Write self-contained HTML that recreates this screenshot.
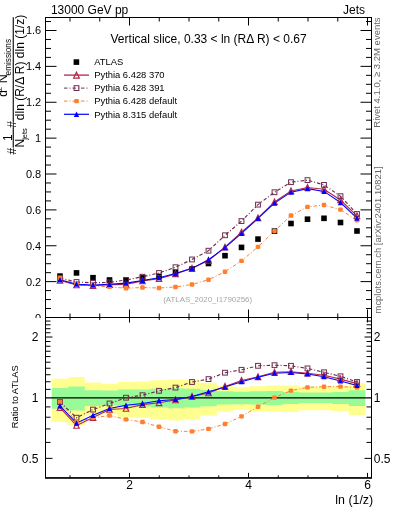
<!DOCTYPE html><html><head><meta charset="utf-8"><style>html,body{margin:0;padding:0;background:#fff;width:393px;height:512px;overflow:hidden}svg{display:block;will-change:transform}text{font-family:"Liberation Sans",sans-serif}</style></head><body>
<svg width="393" height="512" viewBox="0 0 393 512">
<rect x="0" y="0" width="393" height="512" fill="#fff"/>
<path d="M45.5,317.50h11M371.5,317.50h-11M45.5,308.53h5.5M371.5,308.53h-5.5M45.5,299.56h5.5M371.5,299.56h-5.5M45.5,290.59h5.5M371.5,290.59h-5.5M45.5,281.62h11M371.5,281.62h-11M45.5,272.66h5.5M371.5,272.66h-5.5M45.5,263.69h5.5M371.5,263.69h-5.5M45.5,254.72h5.5M371.5,254.72h-5.5M45.5,245.75h11M371.5,245.75h-11M45.5,236.78h5.5M371.5,236.78h-5.5M45.5,227.81h5.5M371.5,227.81h-5.5M45.5,218.84h5.5M371.5,218.84h-5.5M45.5,209.88h11M371.5,209.88h-11M45.5,200.91h5.5M371.5,200.91h-5.5M45.5,191.94h5.5M371.5,191.94h-5.5M45.5,182.97h5.5M371.5,182.97h-5.5M45.5,174.00h11M371.5,174.00h-11M45.5,165.03h5.5M371.5,165.03h-5.5M45.5,156.06h5.5M371.5,156.06h-5.5M45.5,147.09h5.5M371.5,147.09h-5.5M45.5,138.12h11M371.5,138.12h-11M45.5,129.16h5.5M371.5,129.16h-5.5M45.5,120.19h5.5M371.5,120.19h-5.5M45.5,111.22h5.5M371.5,111.22h-5.5M45.5,102.25h11M371.5,102.25h-11M45.5,93.28h5.5M371.5,93.28h-5.5M45.5,84.31h5.5M371.5,84.31h-5.5M45.5,75.34h5.5M371.5,75.34h-5.5M45.5,66.37h11M371.5,66.37h-11M45.5,57.41h5.5M371.5,57.41h-5.5M45.5,48.44h5.5M371.5,48.44h-5.5M45.5,39.47h5.5M371.5,39.47h-5.5M45.5,30.50h11M371.5,30.50h-11M45.5,21.53h5.5M371.5,21.53h-5.5M70.00,317.5v-4M70.00,17.5v4M99.75,317.5v-4M99.75,17.5v4M129.50,317.5v-8M129.50,17.5v8M159.25,317.5v-4M159.25,17.5v4M189.00,317.5v-4M189.00,17.5v4M218.75,317.5v-4M218.75,17.5v4M248.50,317.5v-8M248.50,17.5v8M278.25,317.5v-4M278.25,17.5v4M308.00,317.5v-4M308.00,17.5v4M337.75,317.5v-4M337.75,17.5v4M367.50,317.5v-8M367.50,17.5v8" stroke="#000" stroke-width="1" fill="none"/>
<text x="41.2" y="322.10" font-size="11" text-anchor="end">0</text>
<text x="41.2" y="285.52" font-size="11" text-anchor="end">0.2</text>
<text x="41.2" y="249.65" font-size="11" text-anchor="end">0.4</text>
<text x="41.2" y="213.78" font-size="11" text-anchor="end">0.6</text>
<text x="41.2" y="177.90" font-size="11" text-anchor="end">0.8</text>
<text x="41.2" y="142.03" font-size="11" text-anchor="end">1</text>
<text x="41.2" y="106.15" font-size="11" text-anchor="end">1.2</text>
<text x="41.2" y="70.27" font-size="11" text-anchor="end">1.4</text>
<text x="41.2" y="34.40" font-size="11" text-anchor="end">1.6</text>
<text x="50.9" y="13.7" font-size="12">13000 GeV pp</text>
<text x="365" y="13.7" font-size="12" text-anchor="end">Jets</text>
<text x="208.6" y="42.8" font-size="12" text-anchor="middle">Vertical slice, 0.33 &lt; ln (RΔ R) &lt; 0.67</text>
<text x="207.6" y="301.9" font-size="7.9" text-anchor="middle" fill="#a6a6a6">(ATLAS_2020_I1790256)</text>
<text transform="translate(379.9,17.4) rotate(-90)" font-size="9.5" text-anchor="end" fill="#666">Rivet 4.1.0, ≥ 3.2M events</text>
<text transform="translate(381.2,313.4) rotate(-90)" font-size="9.4" fill="#666">mcplots.cern.ch [arXiv:2401.10821]</text>
<rect x="73.6" y="59.300000000000004" width="5.6" height="5.6" fill="#000"/>
<line x1="64" y1="75.1" x2="89" y2="75.1" stroke="#b3284a" stroke-width="1.3"/>
<line x1="64" y1="88.1" x2="89" y2="88.1" stroke="#6e2c4e" stroke-width="1" stroke-dasharray="3.5,2,1,2"/>
<line x1="64" y1="101.1" x2="89" y2="101.1" stroke="#ff7f2e" stroke-width="1" stroke-dasharray="3.5,2,1,2"/>
<line x1="64" y1="114.3" x2="89" y2="114.3" stroke="#0000ff" stroke-width="1.2"/>
<path d="M76.50,72.23L79.38,78.18L73.62,78.18Z" fill="none" stroke="#b3284a" stroke-width="1.2"/>
<rect x="74.10" y="85.70" width="4.8" height="4.8" fill="none" stroke="#6e2c4e" stroke-width="1"/>
<rect x="74.20" y="98.90" width="4.6" height="4.4" rx="1.2" fill="#ff7f2e"/>
<path d="M76.50,111.40L79.20,116.90L73.80,116.90Z" fill="#0000ff"/>
<text x="94.2" y="65.40" font-size="9.4">ATLAS</text>
<text x="94.2" y="78.40" font-size="9.4">Pythia 6.428 370</text>
<text x="94.2" y="91.40" font-size="9.4">Pythia 6.428 391</text>
<text x="94.2" y="104.40" font-size="9.4">Pythia 6.428 default</text>
<text x="94.2" y="117.60" font-size="9.4">Pythia 8.315 default</text>
<polyline points="60.00,280.53 76.50,285.04 93.00,285.79 109.50,284.73 126.00,284.35 142.50,280.90 159.00,278.73 175.50,273.86 192.00,268.33 208.50,260.52 225.00,247.18 241.50,232.18 258.00,217.96 274.50,202.01 291.00,190.99 307.50,187.45 324.00,189.22 340.50,200.01 357.00,215.88" fill="none" stroke="#b3284a" stroke-width="1.1"/>
<polyline points="60.00,278.08 76.50,282.01 93.00,282.76 109.50,282.40 126.00,280.00 142.50,276.75 159.00,273.03 175.50,267.22 192.00,259.47 208.50,250.71 225.00,235.27 241.50,221.08 258.00,204.63 274.50,192.25 291.00,182.17 307.50,180.12 324.00,184.90 340.50,196.19 357.00,214.01" fill="none" stroke="#6e2c4e" stroke-width="1.15" stroke-dasharray="3.5,2,1,2"/>
<polyline points="60.00,278.04 76.50,283.71 93.00,285.90 109.50,286.90 126.00,288.23 142.50,287.50 159.00,288.02 175.50,286.95 192.00,284.50 208.50,279.69 225.00,271.74 241.50,260.88 258.00,246.84 274.50,231.00 291.00,215.56 307.50,206.92 324.00,205.02 340.50,209.66 357.00,220.31" fill="none" stroke="#ff7f2e" stroke-width="1" stroke-dasharray="3.5,2,1,2"/>
<polyline points="60.00,279.80 76.50,284.17 93.00,284.97 109.50,284.37 126.00,283.14 142.50,280.48 159.00,277.76 175.50,273.56 192.00,268.36 208.50,259.77 225.00,247.70 241.50,233.29 258.00,218.47 274.50,203.13 291.00,192.14 307.50,188.63 324.00,191.40 340.50,202.53 357.00,218.06" fill="none" stroke="#0000ff" stroke-width="1.05"/>
<rect x="57.20" y="273.30" width="5.6" height="5.6" fill="#000"/>
<rect x="73.70" y="270.10" width="5.6" height="5.6" fill="#000"/>
<rect x="90.20" y="274.90" width="5.6" height="5.6" fill="#000"/>
<rect x="106.70" y="277.20" width="5.6" height="5.6" fill="#000"/>
<rect x="123.20" y="277.20" width="5.6" height="5.6" fill="#000"/>
<rect x="139.70" y="275.10" width="5.6" height="5.6" fill="#000"/>
<rect x="156.20" y="273.60" width="5.6" height="5.6" fill="#000"/>
<rect x="172.70" y="269.90" width="5.6" height="5.6" fill="#000"/>
<rect x="189.20" y="266.20" width="5.6" height="5.6" fill="#000"/>
<rect x="205.70" y="260.70" width="5.6" height="5.6" fill="#000"/>
<rect x="222.20" y="252.90" width="5.6" height="5.6" fill="#000"/>
<rect x="238.70" y="244.60" width="5.6" height="5.6" fill="#000"/>
<rect x="255.20" y="236.30" width="5.6" height="5.6" fill="#000"/>
<rect x="271.70" y="228.30" width="5.6" height="5.6" fill="#000"/>
<rect x="288.20" y="220.70" width="5.6" height="5.6" fill="#000"/>
<rect x="304.70" y="216.40" width="5.6" height="5.6" fill="#000"/>
<rect x="321.20" y="215.50" width="5.6" height="5.6" fill="#000"/>
<rect x="337.70" y="219.70" width="5.6" height="5.6" fill="#000"/>
<rect x="354.20" y="228.20" width="5.6" height="5.6" fill="#000"/>
<path d="M60.00,277.62L62.73,283.26L57.27,283.26Z" fill="none" stroke="#b3284a" stroke-width="1.2"/>
<path d="M76.50,282.13L79.23,287.76L73.77,287.76Z" fill="none" stroke="#b3284a" stroke-width="1.2"/>
<path d="M93.00,282.89L95.73,288.52L90.27,288.52Z" fill="none" stroke="#b3284a" stroke-width="1.2"/>
<path d="M109.50,281.83L112.23,287.46L106.77,287.46Z" fill="none" stroke="#b3284a" stroke-width="1.2"/>
<path d="M126.00,281.45L128.73,287.08L123.27,287.08Z" fill="none" stroke="#b3284a" stroke-width="1.2"/>
<path d="M142.50,278.00L145.23,283.63L139.77,283.63Z" fill="none" stroke="#b3284a" stroke-width="1.2"/>
<path d="M159.00,275.82L161.73,281.45L156.27,281.45Z" fill="none" stroke="#b3284a" stroke-width="1.2"/>
<path d="M175.50,270.96L178.23,276.59L172.77,276.59Z" fill="none" stroke="#b3284a" stroke-width="1.2"/>
<path d="M192.00,265.43L194.73,271.06L189.27,271.06Z" fill="none" stroke="#b3284a" stroke-width="1.2"/>
<path d="M208.50,257.62L211.23,263.25L205.77,263.25Z" fill="none" stroke="#b3284a" stroke-width="1.2"/>
<path d="M225.00,244.28L227.73,249.91L222.27,249.91Z" fill="none" stroke="#b3284a" stroke-width="1.2"/>
<path d="M241.50,229.27L244.23,234.91L238.77,234.91Z" fill="none" stroke="#b3284a" stroke-width="1.2"/>
<path d="M258.00,215.05L260.73,220.68L255.27,220.68Z" fill="none" stroke="#b3284a" stroke-width="1.2"/>
<path d="M274.50,199.11L277.23,204.74L271.77,204.74Z" fill="none" stroke="#b3284a" stroke-width="1.2"/>
<path d="M291.00,188.08L293.73,193.72L288.27,193.72Z" fill="none" stroke="#b3284a" stroke-width="1.2"/>
<path d="M307.50,184.54L310.23,190.18L304.77,190.18Z" fill="none" stroke="#b3284a" stroke-width="1.2"/>
<path d="M324.00,186.32L326.73,191.95L321.27,191.95Z" fill="none" stroke="#b3284a" stroke-width="1.2"/>
<path d="M340.50,197.10L343.23,202.73L337.77,202.73Z" fill="none" stroke="#b3284a" stroke-width="1.2"/>
<path d="M357.00,212.98L359.73,218.61L354.27,218.61Z" fill="none" stroke="#b3284a" stroke-width="1.2"/>
<rect x="57.60" y="275.68" width="4.8" height="4.8" fill="none" stroke="#6e2c4e" stroke-width="1"/>
<rect x="74.10" y="279.61" width="4.8" height="4.8" fill="none" stroke="#6e2c4e" stroke-width="1"/>
<rect x="90.60" y="280.36" width="4.8" height="4.8" fill="none" stroke="#6e2c4e" stroke-width="1"/>
<rect x="107.10" y="280.00" width="4.8" height="4.8" fill="none" stroke="#6e2c4e" stroke-width="1"/>
<rect x="123.60" y="277.60" width="4.8" height="4.8" fill="none" stroke="#6e2c4e" stroke-width="1"/>
<rect x="140.10" y="274.35" width="4.8" height="4.8" fill="none" stroke="#6e2c4e" stroke-width="1"/>
<rect x="156.60" y="270.63" width="4.8" height="4.8" fill="none" stroke="#6e2c4e" stroke-width="1"/>
<rect x="173.10" y="264.82" width="4.8" height="4.8" fill="none" stroke="#6e2c4e" stroke-width="1"/>
<rect x="189.60" y="257.07" width="4.8" height="4.8" fill="none" stroke="#6e2c4e" stroke-width="1"/>
<rect x="206.10" y="248.31" width="4.8" height="4.8" fill="none" stroke="#6e2c4e" stroke-width="1"/>
<rect x="222.60" y="232.87" width="4.8" height="4.8" fill="none" stroke="#6e2c4e" stroke-width="1"/>
<rect x="239.10" y="218.68" width="4.8" height="4.8" fill="none" stroke="#6e2c4e" stroke-width="1"/>
<rect x="255.60" y="202.23" width="4.8" height="4.8" fill="none" stroke="#6e2c4e" stroke-width="1"/>
<rect x="272.10" y="189.85" width="4.8" height="4.8" fill="none" stroke="#6e2c4e" stroke-width="1"/>
<rect x="288.60" y="179.77" width="4.8" height="4.8" fill="none" stroke="#6e2c4e" stroke-width="1"/>
<rect x="305.10" y="177.72" width="4.8" height="4.8" fill="none" stroke="#6e2c4e" stroke-width="1"/>
<rect x="321.60" y="182.50" width="4.8" height="4.8" fill="none" stroke="#6e2c4e" stroke-width="1"/>
<rect x="338.10" y="193.79" width="4.8" height="4.8" fill="none" stroke="#6e2c4e" stroke-width="1"/>
<rect x="354.60" y="211.61" width="4.8" height="4.8" fill="none" stroke="#6e2c4e" stroke-width="1"/>
<rect x="57.70" y="275.84" width="4.6" height="4.4" rx="1.2" fill="#ff7f2e"/>
<rect x="74.20" y="281.51" width="4.6" height="4.4" rx="1.2" fill="#ff7f2e"/>
<rect x="90.70" y="283.70" width="4.6" height="4.4" rx="1.2" fill="#ff7f2e"/>
<rect x="107.20" y="284.70" width="4.6" height="4.4" rx="1.2" fill="#ff7f2e"/>
<rect x="123.70" y="286.03" width="4.6" height="4.4" rx="1.2" fill="#ff7f2e"/>
<rect x="140.20" y="285.30" width="4.6" height="4.4" rx="1.2" fill="#ff7f2e"/>
<rect x="156.70" y="285.82" width="4.6" height="4.4" rx="1.2" fill="#ff7f2e"/>
<rect x="173.20" y="284.75" width="4.6" height="4.4" rx="1.2" fill="#ff7f2e"/>
<rect x="189.70" y="282.30" width="4.6" height="4.4" rx="1.2" fill="#ff7f2e"/>
<rect x="206.20" y="277.49" width="4.6" height="4.4" rx="1.2" fill="#ff7f2e"/>
<rect x="222.70" y="269.54" width="4.6" height="4.4" rx="1.2" fill="#ff7f2e"/>
<rect x="239.20" y="258.68" width="4.6" height="4.4" rx="1.2" fill="#ff7f2e"/>
<rect x="255.70" y="244.64" width="4.6" height="4.4" rx="1.2" fill="#ff7f2e"/>
<rect x="272.20" y="228.80" width="4.6" height="4.4" rx="1.2" fill="#ff7f2e"/>
<rect x="288.70" y="213.36" width="4.6" height="4.4" rx="1.2" fill="#ff7f2e"/>
<rect x="305.20" y="204.72" width="4.6" height="4.4" rx="1.2" fill="#ff7f2e"/>
<rect x="321.70" y="202.82" width="4.6" height="4.4" rx="1.2" fill="#ff7f2e"/>
<rect x="338.20" y="207.46" width="4.6" height="4.4" rx="1.2" fill="#ff7f2e"/>
<rect x="354.70" y="218.11" width="4.6" height="4.4" rx="1.2" fill="#ff7f2e"/>
<path d="M60.00,276.90L62.70,282.40L57.30,282.40Z" fill="#0000ff"/>
<path d="M76.50,281.27L79.20,286.77L73.80,286.77Z" fill="#0000ff"/>
<path d="M93.00,282.07L95.70,287.57L90.30,287.57Z" fill="#0000ff"/>
<path d="M109.50,281.47L112.20,286.97L106.80,286.97Z" fill="#0000ff"/>
<path d="M126.00,280.24L128.70,285.74L123.30,285.74Z" fill="#0000ff"/>
<path d="M142.50,277.58L145.20,283.08L139.80,283.08Z" fill="#0000ff"/>
<path d="M159.00,274.86L161.70,280.36L156.30,280.36Z" fill="#0000ff"/>
<path d="M175.50,270.66L178.20,276.16L172.80,276.16Z" fill="#0000ff"/>
<path d="M192.00,265.46L194.70,270.96L189.30,270.96Z" fill="#0000ff"/>
<path d="M208.50,256.87L211.20,262.37L205.80,262.37Z" fill="#0000ff"/>
<path d="M225.00,244.80L227.70,250.30L222.30,250.30Z" fill="#0000ff"/>
<path d="M241.50,230.39L244.20,235.89L238.80,235.89Z" fill="#0000ff"/>
<path d="M258.00,215.57L260.70,221.07L255.30,221.07Z" fill="#0000ff"/>
<path d="M274.50,200.23L277.20,205.73L271.80,205.73Z" fill="#0000ff"/>
<path d="M291.00,189.24L293.70,194.74L288.30,194.74Z" fill="#0000ff"/>
<path d="M307.50,185.73L310.20,191.23L304.80,191.23Z" fill="#0000ff"/>
<path d="M324.00,188.50L326.70,194.00L321.30,194.00Z" fill="#0000ff"/>
<path d="M340.50,199.63L343.20,205.13L337.80,205.13Z" fill="#0000ff"/>
<path d="M357.00,215.16L359.70,220.66L354.30,220.66Z" fill="#0000ff"/>
<rect x="45.5" y="17.5" width="326.0" height="300.0" fill="none" stroke="#000" stroke-width="1"/>
<rect x="0" y="318" width="393" height="194" fill="#fff"/>
<path d="M51.75,378.70L68.25,378.70L68.25,376.90L84.75,376.90L84.75,382.60L101.25,382.60L101.25,383.70L117.75,383.70L117.75,381.90L134.25,381.90L134.25,381.40L150.75,381.40L150.75,380.30L167.25,380.30L167.25,379.60L183.75,379.60L183.75,380.30L200.25,380.30L200.25,382.80L216.75,382.80L216.75,386.00L233.25,386.00L233.25,387.20L249.75,387.20L249.75,386.20L266.25,386.20L266.25,385.60L282.75,385.60L282.75,385.50L299.25,385.50L299.25,386.70L315.75,386.70L315.75,386.70L332.25,386.70L332.25,386.20L348.75,386.20L348.75,383.20L365.25,383.20L365.25,415.09L348.75,415.09L348.75,410.94L332.25,410.94L332.25,410.28L315.75,410.28L315.75,410.28L299.25,410.28L299.25,411.88L282.75,411.88L282.75,411.75L266.25,411.75L266.25,410.94L249.75,410.94L249.75,409.63L233.25,409.63L233.25,411.21L216.75,411.21L216.75,415.67L200.25,415.67L200.25,419.44L183.75,419.44L183.75,420.55L167.25,420.55L167.25,419.44L150.75,419.44L150.75,417.75L134.25,417.75L134.25,416.99L117.75,416.99L117.75,414.37L101.25,414.37L101.25,415.96L84.75,415.96L84.75,425.04L68.25,425.04L68.25,422.00L51.75,422.00Z" fill="#ffff90"/>
<path d="M51.75,387.90L68.25,387.90L68.25,386.50L84.75,386.50L84.75,390.20L101.25,390.20L101.25,390.60L117.75,390.60L117.75,389.50L134.25,389.50L134.25,389.50L150.75,389.50L150.75,388.80L167.25,388.80L167.25,388.30L183.75,388.30L183.75,388.80L200.25,388.80L200.25,390.00L216.75,390.00L216.75,391.30L233.25,391.30L233.25,391.70L249.75,391.70L249.75,391.30L266.25,391.30L266.25,390.90L282.75,390.90L282.75,391.90L299.25,391.90L299.25,392.60L315.75,392.60L315.75,392.60L332.25,392.60L332.25,391.90L348.75,391.90L348.75,390.20L365.25,390.20L365.25,405.90L348.75,405.90L348.75,403.91L332.25,403.91L332.25,403.12L315.75,403.12L315.75,403.12L299.25,403.12L299.25,403.91L282.75,403.91L282.75,405.07L266.25,405.07L266.25,404.61L249.75,404.61L249.75,404.14L233.25,404.14L233.25,404.61L216.75,404.61L216.75,406.14L200.25,406.14L200.25,407.61L183.75,407.61L183.75,408.23L167.25,408.23L167.25,407.61L150.75,407.61L150.75,406.75L134.25,406.75L134.25,406.75L117.75,406.75L117.75,405.43L101.25,405.43L101.25,405.90L84.75,405.90L84.75,410.55L68.25,410.55L68.25,408.74L51.75,408.74Z" fill="#98fb98"/>
<line x1="45.5" y1="397.9" x2="371.5" y2="397.9" stroke="#000" stroke-width="1.2"/>
<path d="M45.5,458.37h7M371.5,458.37h-7M45.5,442.41h5M371.5,442.41h-5M45.5,428.92h5M371.5,428.92h-5M45.5,417.23h5M371.5,417.23h-5M45.5,406.92h5M371.5,406.92h-5M45.5,389.36h5M371.5,389.36h-5M45.5,381.74h5M371.5,381.74h-5M45.5,374.74h5M371.5,374.74h-5M45.5,368.25h5M371.5,368.25h-5M45.5,362.21h5M371.5,362.21h-5M45.5,356.56h5M371.5,356.56h-5M45.5,351.26h5M371.5,351.26h-5M45.5,346.25h5M371.5,346.25h-5M45.5,341.52h5M371.5,341.52h-5M45.5,337.03h7M371.5,337.03h-7M45.5,332.76h5M371.5,332.76h-5M45.5,328.69h5M371.5,328.69h-5M45.5,324.80h5M371.5,324.80h-5M45.5,321.07h5M371.5,321.07h-5M70.00,317.5v2.5M70.00,477.9v-2.5M99.75,317.5v2.5M99.75,477.9v-2.5M129.50,317.5v5M129.50,477.9v-5M159.25,317.5v2.5M159.25,477.9v-2.5M189.00,317.5v2.5M189.00,477.9v-2.5M218.75,317.5v2.5M218.75,477.9v-2.5M248.50,317.5v5M248.50,477.9v-5M278.25,317.5v2.5M278.25,477.9v-2.5M308.00,317.5v2.5M308.00,477.9v-2.5M337.75,317.5v2.5M337.75,477.9v-2.5M367.50,317.5v5M367.50,477.9v-5" stroke="#000" stroke-width="1" fill="none"/>
<polyline points="60.00,407.60 76.50,425.50 93.00,417.60 109.50,409.50 126.00,408.50 142.50,404.60 159.00,402.80 175.50,400.00 192.00,396.50 208.50,393.00 225.00,386.40 241.50,380.50 258.00,376.80 274.50,372.30 291.00,371.70 307.50,373.20 324.00,375.20 340.50,379.10 357.00,383.60" fill="none" stroke="#b3284a" stroke-width="1.1"/>
<polyline points="60.00,402.00 76.50,417.70 93.00,409.60 109.50,403.50 126.00,397.70 142.50,395.20 159.00,390.80 175.50,387.60 192.00,382.00 208.50,379.10 225.00,372.70 241.50,369.80 258.00,365.80 274.50,365.20 291.00,365.80 307.50,368.40 324.00,372.30 340.50,376.30 357.00,382.00" fill="none" stroke="#6e2c4e" stroke-width="1.15" stroke-dasharray="3.5,2,1,2"/>
<polyline points="60.00,401.90 76.50,422.00 93.00,417.90 109.50,415.50 126.00,419.40 142.50,422.00 159.00,426.80 175.50,431.20 192.00,431.40 208.50,428.90 225.00,424.00 241.50,416.40 258.00,406.80 274.50,397.60 291.00,390.60 307.50,387.40 324.00,386.70 340.50,386.60 357.00,387.50" fill="none" stroke="#ff7f2e" stroke-width="1" stroke-dasharray="3.5,2,1,2"/>
<polyline points="60.00,405.90 76.50,423.20 93.00,415.35 109.50,408.55 126.00,405.35 142.50,403.60 159.00,400.65 175.50,399.40 192.00,396.55 208.50,391.85 225.00,387.05 241.50,381.65 258.00,377.25 274.50,373.15 291.00,372.50 307.50,374.00 324.00,376.70 340.50,381.00 357.00,385.50" fill="none" stroke="#0000ff" stroke-width="1.05"/>
<path d="M60.00,404.70L62.73,410.33L57.27,410.33Z" fill="none" stroke="#b3284a" stroke-width="1.2"/>
<path d="M76.50,422.60L79.23,428.23L73.77,428.23Z" fill="none" stroke="#b3284a" stroke-width="1.2"/>
<path d="M93.00,414.70L95.73,420.33L90.27,420.33Z" fill="none" stroke="#b3284a" stroke-width="1.2"/>
<path d="M109.50,406.60L112.23,412.23L106.77,412.23Z" fill="none" stroke="#b3284a" stroke-width="1.2"/>
<path d="M126.00,405.60L128.73,411.23L123.27,411.23Z" fill="none" stroke="#b3284a" stroke-width="1.2"/>
<path d="M142.50,401.70L145.23,407.33L139.77,407.33Z" fill="none" stroke="#b3284a" stroke-width="1.2"/>
<path d="M159.00,399.90L161.73,405.53L156.27,405.53Z" fill="none" stroke="#b3284a" stroke-width="1.2"/>
<path d="M175.50,397.10L178.23,402.73L172.77,402.73Z" fill="none" stroke="#b3284a" stroke-width="1.2"/>
<path d="M192.00,393.60L194.73,399.23L189.27,399.23Z" fill="none" stroke="#b3284a" stroke-width="1.2"/>
<path d="M208.50,390.10L211.23,395.73L205.77,395.73Z" fill="none" stroke="#b3284a" stroke-width="1.2"/>
<path d="M225.00,383.50L227.73,389.13L222.27,389.13Z" fill="none" stroke="#b3284a" stroke-width="1.2"/>
<path d="M241.50,377.60L244.23,383.23L238.77,383.23Z" fill="none" stroke="#b3284a" stroke-width="1.2"/>
<path d="M258.00,373.90L260.73,379.53L255.27,379.53Z" fill="none" stroke="#b3284a" stroke-width="1.2"/>
<path d="M274.50,369.40L277.23,375.03L271.77,375.03Z" fill="none" stroke="#b3284a" stroke-width="1.2"/>
<path d="M291.00,368.80L293.73,374.43L288.27,374.43Z" fill="none" stroke="#b3284a" stroke-width="1.2"/>
<path d="M307.50,370.30L310.23,375.93L304.77,375.93Z" fill="none" stroke="#b3284a" stroke-width="1.2"/>
<path d="M324.00,372.30L326.73,377.93L321.27,377.93Z" fill="none" stroke="#b3284a" stroke-width="1.2"/>
<path d="M340.50,376.20L343.23,381.83L337.77,381.83Z" fill="none" stroke="#b3284a" stroke-width="1.2"/>
<path d="M357.00,380.70L359.73,386.33L354.27,386.33Z" fill="none" stroke="#b3284a" stroke-width="1.2"/>
<rect x="57.60" y="399.60" width="4.8" height="4.8" fill="none" stroke="#6e2c4e" stroke-width="1"/>
<rect x="74.10" y="415.30" width="4.8" height="4.8" fill="none" stroke="#6e2c4e" stroke-width="1"/>
<rect x="90.60" y="407.20" width="4.8" height="4.8" fill="none" stroke="#6e2c4e" stroke-width="1"/>
<rect x="107.10" y="401.10" width="4.8" height="4.8" fill="none" stroke="#6e2c4e" stroke-width="1"/>
<rect x="123.60" y="395.30" width="4.8" height="4.8" fill="none" stroke="#6e2c4e" stroke-width="1"/>
<rect x="140.10" y="392.80" width="4.8" height="4.8" fill="none" stroke="#6e2c4e" stroke-width="1"/>
<rect x="156.60" y="388.40" width="4.8" height="4.8" fill="none" stroke="#6e2c4e" stroke-width="1"/>
<rect x="173.10" y="385.20" width="4.8" height="4.8" fill="none" stroke="#6e2c4e" stroke-width="1"/>
<rect x="189.60" y="379.60" width="4.8" height="4.8" fill="none" stroke="#6e2c4e" stroke-width="1"/>
<rect x="206.10" y="376.70" width="4.8" height="4.8" fill="none" stroke="#6e2c4e" stroke-width="1"/>
<rect x="222.60" y="370.30" width="4.8" height="4.8" fill="none" stroke="#6e2c4e" stroke-width="1"/>
<rect x="239.10" y="367.40" width="4.8" height="4.8" fill="none" stroke="#6e2c4e" stroke-width="1"/>
<rect x="255.60" y="363.40" width="4.8" height="4.8" fill="none" stroke="#6e2c4e" stroke-width="1"/>
<rect x="272.10" y="362.80" width="4.8" height="4.8" fill="none" stroke="#6e2c4e" stroke-width="1"/>
<rect x="288.60" y="363.40" width="4.8" height="4.8" fill="none" stroke="#6e2c4e" stroke-width="1"/>
<rect x="305.10" y="366.00" width="4.8" height="4.8" fill="none" stroke="#6e2c4e" stroke-width="1"/>
<rect x="321.60" y="369.90" width="4.8" height="4.8" fill="none" stroke="#6e2c4e" stroke-width="1"/>
<rect x="338.10" y="373.90" width="4.8" height="4.8" fill="none" stroke="#6e2c4e" stroke-width="1"/>
<rect x="354.60" y="379.60" width="4.8" height="4.8" fill="none" stroke="#6e2c4e" stroke-width="1"/>
<rect x="57.70" y="399.70" width="4.6" height="4.4" rx="1.2" fill="#ff7f2e"/>
<rect x="74.20" y="419.80" width="4.6" height="4.4" rx="1.2" fill="#ff7f2e"/>
<rect x="90.70" y="415.70" width="4.6" height="4.4" rx="1.2" fill="#ff7f2e"/>
<rect x="107.20" y="413.30" width="4.6" height="4.4" rx="1.2" fill="#ff7f2e"/>
<rect x="123.70" y="417.20" width="4.6" height="4.4" rx="1.2" fill="#ff7f2e"/>
<rect x="140.20" y="419.80" width="4.6" height="4.4" rx="1.2" fill="#ff7f2e"/>
<rect x="156.70" y="424.60" width="4.6" height="4.4" rx="1.2" fill="#ff7f2e"/>
<rect x="173.20" y="429.00" width="4.6" height="4.4" rx="1.2" fill="#ff7f2e"/>
<rect x="189.70" y="429.20" width="4.6" height="4.4" rx="1.2" fill="#ff7f2e"/>
<rect x="206.20" y="426.70" width="4.6" height="4.4" rx="1.2" fill="#ff7f2e"/>
<rect x="222.70" y="421.80" width="4.6" height="4.4" rx="1.2" fill="#ff7f2e"/>
<rect x="239.20" y="414.20" width="4.6" height="4.4" rx="1.2" fill="#ff7f2e"/>
<rect x="255.70" y="404.60" width="4.6" height="4.4" rx="1.2" fill="#ff7f2e"/>
<rect x="272.20" y="395.40" width="4.6" height="4.4" rx="1.2" fill="#ff7f2e"/>
<rect x="288.70" y="388.40" width="4.6" height="4.4" rx="1.2" fill="#ff7f2e"/>
<rect x="305.20" y="385.20" width="4.6" height="4.4" rx="1.2" fill="#ff7f2e"/>
<rect x="321.70" y="384.50" width="4.6" height="4.4" rx="1.2" fill="#ff7f2e"/>
<rect x="338.20" y="384.40" width="4.6" height="4.4" rx="1.2" fill="#ff7f2e"/>
<rect x="354.70" y="385.30" width="4.6" height="4.4" rx="1.2" fill="#ff7f2e"/>
<path d="M60.00,403.00L62.70,408.50L57.30,408.50Z" fill="#0000ff"/>
<path d="M76.50,420.30L79.20,425.80L73.80,425.80Z" fill="#0000ff"/>
<path d="M93.00,412.45L95.70,417.95L90.30,417.95Z" fill="#0000ff"/>
<path d="M109.50,405.65L112.20,411.15L106.80,411.15Z" fill="#0000ff"/>
<path d="M126.00,402.45L128.70,407.95L123.30,407.95Z" fill="#0000ff"/>
<path d="M142.50,400.70L145.20,406.20L139.80,406.20Z" fill="#0000ff"/>
<path d="M159.00,397.75L161.70,403.25L156.30,403.25Z" fill="#0000ff"/>
<path d="M175.50,396.50L178.20,402.00L172.80,402.00Z" fill="#0000ff"/>
<path d="M192.00,393.65L194.70,399.15L189.30,399.15Z" fill="#0000ff"/>
<path d="M208.50,388.95L211.20,394.45L205.80,394.45Z" fill="#0000ff"/>
<path d="M225.00,384.15L227.70,389.65L222.30,389.65Z" fill="#0000ff"/>
<path d="M241.50,378.75L244.20,384.25L238.80,384.25Z" fill="#0000ff"/>
<path d="M258.00,374.35L260.70,379.85L255.30,379.85Z" fill="#0000ff"/>
<path d="M274.50,370.25L277.20,375.75L271.80,375.75Z" fill="#0000ff"/>
<path d="M291.00,369.60L293.70,375.10L288.30,375.10Z" fill="#0000ff"/>
<path d="M307.50,371.10L310.20,376.60L304.80,376.60Z" fill="#0000ff"/>
<path d="M324.00,373.80L326.70,379.30L321.30,379.30Z" fill="#0000ff"/>
<path d="M340.50,378.10L343.20,383.60L337.80,383.60Z" fill="#0000ff"/>
<path d="M357.00,382.60L359.70,388.10L354.30,388.10Z" fill="#0000ff"/>
<path d="M45.5,317.5V477.9M371.5,317.5V477.9M45.5,317.5H371.5" stroke="#000" stroke-width="1" fill="none"/>
<rect x="45.0" y="477.1" width="327.0" height="1.7" fill="#000"/>
<text x="38.5" y="341.33" font-size="12" text-anchor="end">2</text>
<text x="373.8" y="341.33" font-size="12">2</text>
<text x="38.5" y="402.00" font-size="12" text-anchor="end">1</text>
<text x="373.8" y="402.00" font-size="12">1</text>
<text x="38.5" y="462.67" font-size="12" text-anchor="end">0.5</text>
<text x="373.8" y="462.67" font-size="12">0.5</text>
<text x="129.50" y="488.9" font-size="12" text-anchor="middle">2</text>
<text x="248.50" y="488.9" font-size="12" text-anchor="middle">4</text>
<text x="367.50" y="488.9" font-size="12" text-anchor="middle">6</text>
<text x="373.2" y="503.9" font-size="12.4" text-anchor="end">ln (1/z)</text>
<text transform="translate(18.2,396.8) rotate(-90)" font-size="9.3" text-anchor="middle">Ratio to ATLAS</text>
<rect x="12.7" y="17.3" width="1.1" height="104.5" fill="#000"/>
<rect x="12.7" y="127.3" width="1.1" height="20.3" fill="#000"/>
<text transform="translate(23.7,120.2) rotate(-90)" font-size="12">dln (R/Δ R) dln (1/z)</text>
<text transform="translate(7.0,96.8) rotate(-90)" font-size="12">d</text>
<text transform="translate(1.8,91.2) rotate(-90)" font-size="8">2</text>
<text transform="translate(7.1,83.2) rotate(-90)" font-size="12.4">N</text>
<text transform="translate(11.3,75.4) rotate(-90)" font-size="8.2">emissions</text>
<text transform="translate(16.4,154.4) rotate(-90)" font-size="12">#</text>
<text transform="translate(16.4,127.7) rotate(-90)" font-size="12">#</text>
<text transform="translate(12.2,141.0) rotate(-90)" font-size="12">1</text>
<text transform="translate(23.7,147.6) rotate(-90)" font-size="12">N</text>
<text transform="translate(27.4,139.8) rotate(-90)" font-size="7.5">jets</text>
</svg></body></html>
